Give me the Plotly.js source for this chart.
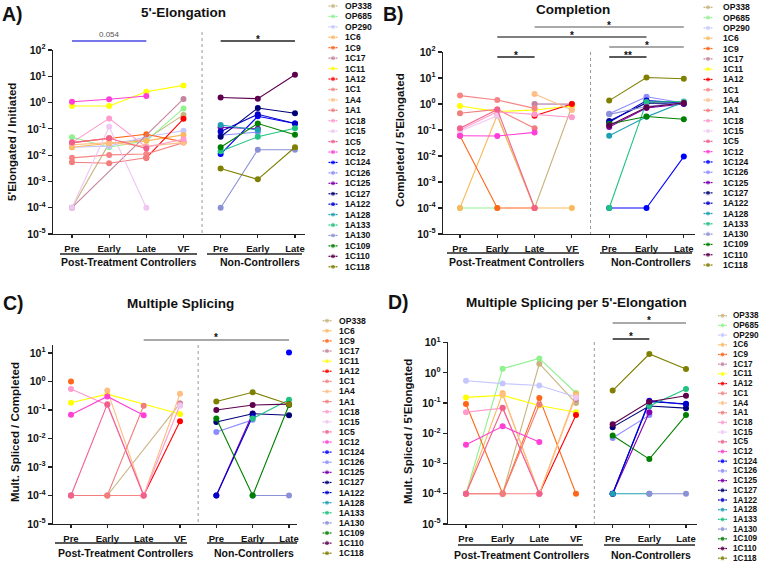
<!DOCTYPE html>
<html><head><meta charset="utf-8">
<script src="https://cdn.plot.ly/plotly-3.0.1.min.js"></script>
<style>html,body{margin:0;padding:0;background:#fff;} #chart{width:760px;height:563px;}</style>
</head><body><div id="chart"></div>
<script>
// ---------- DATA ----------
const patients = ['OP338','OP685','OP290','1C6','1C9','1C17','1C11','1A12','1C1','1A4','1A1','1C18','1C15','1C5','1C12',
                  '1C124','1C126','1C125','1C127','1A122','1A128','1A133','1A130','1C109','1C110','1C118'];
const colors = ['#c9b47f','#8ff28f','#c6c6ff','#fbb95e','#ff6619','#c4849f','#ffff00','#ff0000','#f78585','#ffbe84','#f27d7d','#ff9bcd','#f0c6f2','#f2618c','#ff3fd6',
                '#0000ff','#8c8cff','#8000b0','#00007a','#0000c8','#1ea0b4','#1ec381','#8a91d6','#008000','#5e004e','#7f7f00'];
const ptcPatients = patients.slice(0, 15);
const ncPatients = patients.slice(15);
const timeLabels = ['Pre','Early','Late','VF','Pre','Early','Late'];
const groupLabels = ['Post-Treatment Controllers','Non-Controllers'];

// A) 5'-Elongation  (rows follow ptcPatients: Pre, Early, Late, VF)
const elongPTC = [
  [1e-4, 0.028, 0.04, 0.34],
  [0.048, 0.02, 0.035, 0.6],
  [0.02, 0.022, 0.05, 0.085],
  [0.02, 0.028, 0.035, 0.059],
  [0.03, 0.044, 0.062, 0.032],
  [1e-4, null, null, 1.37],
  [0.74, 0.74, 2.6, 4.5],
  [null, null, 0.0079, 0.24],
  [0.0079, 0.0102, 0.011, 0.03],
  [0.025, 0.03, 0.022, 0.03],
  [0.0054, 0.0049, 0.008, null],
  [0.03, 0.25, 0.02, 0.04],
  [1e-4, 0.12, 1e-4, null],
  [0.03, 0.044, 0.018, null],
  [1.08, 1.33, 1.78, null]
];
// (rows follow ncPatients: Pre, Early, Late)
const elongNC = [
  [0.011, 0.3, 0.16],
  [0.057, 0.075, null],
  [0.115, 0.1, null],
  [0.05, 0.62, 0.39],
  [0.08, 0.36, 0.16],
  [0.14, 0.09, null],
  [0.014, 0.05, 0.105],
  [1e-4, 0.016, 0.016],
  [0.02, 0.16, 0.06],
  [1.55, 1.4, 11.5],
  [0.0031, 0.0012, 0.02]
];
// B) Completion
const complPTC = [
  [null, 0.35, 1e-4, 0.8],
  [1e-4, 1e-4, null, null],
  [null, null, 1.0, 0.95],
  [1e-4, 0.38, 1e-4, 1e-4],
  [0.06, 1e-4, 1e-4, null],
  [null, null, 1.0, 1.0],
  [0.84, 0.51, 0.59, 0.84],
  [null, null, 0.35, 1.0],
  [2.1, 1.43, 0.68, null],
  [null, null, 2.4, 0.59],
  [0.44, 0.62, 0.116, null],
  [0.1, 0.5, 0.4, 0.31],
  [0.09, 0.35, null, null],
  [0.116, 0.62, 1e-4, null],
  [0.06, 0.059, 0.081, null]
];
const complNC = [
  [1e-4, 1e-4, 0.0095],
  [0.42, 1.9, 1.1],
  [0.13, 0.7, 1.0],
  [0.22, 1.1, 1.05],
  [0.2, 1.35, 1.1],
  [0.06, 0.32, 1.2],
  [1e-4, 1.2, 1.25],
  [0.4, 0.8, 1.15],
  [0.17, 0.33, 0.26],
  [0.15, 0.75, 1.1],
  [1.35, 10.4, 9.3]
];
// C) Multiple Splicing (OP685, OP290 not measured)
const multPTC = [
  [null, 1e-4, null, 0.17],
  null,
  null,
  [null, null, null, 0.15],
  [1.0, null, null, null],
  [null, null, null, 0.17],
  [0.18, 0.36, null, 0.072],
  [null, null, 1e-4, 0.04],
  [1e-4, 1e-4, 1e-4, null],
  [null, 0.48, 1e-4, 0.37],
  [1e-4, 1e-4, 0.14, null],
  [0.55, 0.15, 1e-4, 0.15],
  [null, null, null, 0.14],
  [1e-4, 0.16, 1e-4, null],
  [0.068, 0.3, 0.065, null]
];
const multNC = [
  [null, null, 10.4],
  [0.017, 0.045, null],
  [1e-4, 0.075, null],
  [0.038, 0.074, 0.065],
  [1e-4, 0.06, null],
  [null, 1e-4, null],
  [null, 0.05, 0.23],
  [null, 1e-4, 1e-4],
  [0.05, 1e-4, 0.15],
  [0.1, 0.15, 0.16],
  [0.2, 0.42, 0.16]
];
// D) Multiple Splicing per 5'-Elongation
const perElongPTC = [
  [null, 1e-4, 2.0, 0.1],
  [1e-4, 1.37, 3.0, 0.215],
  [0.55, 0.44, 0.38, 0.158],
  [1e-4, 0.21, 1e-4, 0.2],
  [0.093, 1e-4, 0.148, 1e-4],
  [null, null, null, 0.13],
  [0.154, 0.18, 0.083, 0.05],
  [null, null, 1e-4, 0.04],
  [1e-4, 1e-4, 1e-4, null],
  [null, 0.19, 1e-4, 0.17],
  [1e-4, 1e-4, 0.09, null],
  [0.05, 0.068, 1e-4, null],
  [null, null, null, 0.15],
  [1e-4, 0.07, 1e-4, null],
  [0.0042, 0.017, 0.0052, null]
];
const perElongNC = [
  [1e-4, 0.12, 0.09],
  [0.007, 0.04, null],
  [1e-4, 0.05, null],
  [0.016, 0.08, 0.068],
  [1e-4, 0.11, 0.095],
  [1e-4, 1e-4, null],
  [null, 0.08, 0.29],
  [null, 1e-4, 1e-4],
  [0.0085, 0.0014, 0.04],
  [0.02, 0.11, 0.175],
  [0.26, 4.2, 1.34]
];
// significance brackets: [from, to, label] in time positions
const sigA = [[0, 2, '0.054'], [4, 6, '*']];
const sigB = [[2, 6, '*'], [1, 5, '*'], [4, 6, '*'], [4, 5, '**'], [1, 2, '*']];
const sigC = [[2, 6, '*']];
const sigD = [[4, 6, '*'], [4, 5, '*']];

// ---------- LAYOUT CONSTANTS ----------
const W = 760, H = 563;
const FONT = 'Liberation Sans, Arial, Helvetica, sans-serif';
const ptcX = [0, 1, 2, 3], ncX = [4, 5, 6];

const panels = [
  {letter:'A)', title:"5'-Elongation", ytitle:"5'Elongated / Initiated", ptc:elongPTC, nc:elongNC, sig:sigA,
   xs:'x', ys:'y', xk:'xaxis', yk:'yaxis', xdom:[53,305], xr:[-0.511,6.27], ydom:[50,234], yr:[-5,2], maxExp:2,
   letterPos:[0,14], titlePos:[183,12], ytitlePos:[12,142],
   grp:{ y:262, line:254, ptc:[60,197,129], nc:[207,302,260] }, div:[32,234],
   sigY:[41,41], sigCol:['#4a4ae6','#222'], sigTxtY:[34,36],
   leg:{ kx:333, tx:343, y0:6, dy:10.43, fs:8.6, list:patients } },
  {letter:'B)', title:'Completion', ytitle:"Completed / 5'Elongated", ptc:complPTC, nc:complNC, sig:sigB,
   xs:'x2', ys:'y2', xk:'xaxis2', yk:'yaxis2', xdom:[443,695], xr:[-0.455,6.3], ydom:[52,234], yr:[-5,2], maxExp:2,
   letterPos:[381,14], titlePos:[573,9], ytitlePos:[400,140],
   grp:{ y:262, line:253, ptc:[447,579,517], nc:[600,692,651] }, div:[52,234],
   sigY:[27,37,47,57,57], sigCol:['#8c8c8c','#555','#8c8c8c','#222','#222'], sigTxtY:[22,32,42,52,52],
   leg:{ kx:708, tx:720.5, y0:7.3, dy:10.31, fs:8.6, list:patients } },
  {letter:'C)', title:'Multiple Splicing', ytitle:'Mult. Spliced / Completed', ptc:multPTC, nc:multNC, sig:sigC,
   xs:'x3', ys:'y3', xk:'xaxis3', yk:'yaxis3', xdom:[53,297], xr:[-0.495,6.22], ydom:[345,524], yr:[-5,1.28], maxExp:1,
   letterPos:[1,303], titlePos:[180,303], ytitlePos:[15,432],
   grp:{ y:553, line:543, ptc:[55,187,126], nc:[207,297,254] }, div:[345,524],
   sigY:[340], sigCol:['#8c8c8c'], sigTxtY:[334],
   leg:{ kx:327, tx:336.5, y0:320.7, dy:10.11, fs:8.6, list:patients.filter(p => p !== 'OP685' && p !== 'OP290') } },
  {letter:'D)', title:"Multiple Splicing per 5'-Elongation", ytitle:"Mult. Spliced / 5'Elongated", ptc:perElongPTC, nc:perElongNC, sig:sigD,
   xs:'x4', ys:'y4', xk:'xaxis4', yk:'yaxis4', xdom:[448,697], xr:[-0.49,6.3], ydom:[342,524], yr:[-5,1.02], maxExp:1,
   letterPos:[386,302], titlePos:[576,302], ytitlePos:[408,432],
   grp:{ y:555, line:545, ptc:[458,583,522], nc:[604,695,651] }, div:[342,524],
   sigY:[323,339], sigCol:['#8c8c8c','#222'], sigTxtY:[317,333],
   leg:{ kx:722.5, tx:731, y0:315.7, dy:9.7, fs:8.2, list:patients } }
];

const traces = [];
const shapes = [];
const annotations = [];
const layout = {
  width: W, height: H, margin:{l:0,r:0,t:0,b:0},
  paper_bgcolor:'#ffffff', plot_bgcolor:'rgba(0,0,0,0)', showlegend:false,
  font:{family:FONT, color:'#111', size:10},
  xaxis5:{domain:[0,1], range:[0,W], visible:false, fixedrange:true, anchor:'y5'},
  yaxis5:{domain:[0,1], range:[H,0], visible:false, fixedrange:true, anchor:'x5'}
};
const P = (txt, x, y, size, opts) => Object.assign({
  text:txt, x:x, y:y, xref:'x5', yref:'y5', showarrow:false,
  font:{family:FONT, size:size, color:'#111', weight:'bold'}, xanchor:'center', yanchor:'middle'
}, opts || {});

panels.forEach(p => {
  const tickvals = [], ticktext = [];
  for (let e = -5; e <= p.maxExp; e++) { tickvals.push(Math.pow(10, e)); ticktext.push('10<sup>' + e + '</sup>'); }
  layout[p.xk] = {
    domain:[p.xdom[0]/W, p.xdom[1]/W], range:p.xr, anchor:p.ys, fixedrange:true,
    tickmode:'array', tickvals:[0,1,2,3,4,5,6], ticktext:timeLabels,
    showline:true, linecolor:'#222', linewidth:1.4, ticks:'outside', ticklen:3, tickwidth:1.2, tickcolor:'#222',
    ticklabelstandoff:2,
    showgrid:false, zeroline:false, tickfont:{family:FONT, size:9.5, color:'#111', weight:'bold'}
  };
  layout[p.yk] = {
    domain:[(H - p.ydom[1])/H, (H - p.ydom[0])/H], range:p.yr, type:'log', anchor:p.xs, fixedrange:true,
    tickmode:'array', tickvals:tickvals, ticktext:ticktext,
    showline:true, linecolor:'#222', linewidth:1.4, ticks:'outside', ticklen:4, tickwidth:1.2, tickcolor:'#222',
    showgrid:false, zeroline:false, tickfont:{family:FONT, size:10.5, color:'#111', weight:'bold'}
  };
  const addSeries = (rows, names, xs) => rows.forEach((row, i) => {
    if (!row) return;
    const idx = patients.indexOf(names[i]);
    traces.push({
      type:'scatter', mode:'lines+markers', x:xs, y:row, xaxis:p.xs, yaxis:p.ys,
      connectgaps:true, cliponaxis:false, hoverinfo:'skip', name:names[i],
      line:{color:colors[idx], width:1.1},
      marker:{color:colors[idx], size:6}
    });
  });
  addSeries(p.ptc, ptcPatients, ptcX);
  addSeries(p.nc, ncPatients, ncX);
  shapes.push({type:'line', xref:p.xs, yref:'y5', x0:3.5, x1:3.5, y0:p.div[0], y1:p.div[1],
               line:{color:'#9a9a9a', width:1, dash:'dot'}});
  shapes.push({type:'line', xref:'x5', yref:'y5', x0:p.grp.ptc[0], x1:p.grp.ptc[1], y0:p.grp.line, y1:p.grp.line, line:{color:'#222', width:1.3}});
  shapes.push({type:'line', xref:'x5', yref:'y5', x0:p.grp.nc[0], x1:p.grp.nc[1], y0:p.grp.line, y1:p.grp.line, line:{color:'#222', width:1.3}});
  annotations.push(P(groupLabels[0], p.grp.ptc[2], p.grp.y, 10.5));
  annotations.push(P(groupLabels[1], p.grp.nc[2], p.grp.y, 10.5));
  annotations.push(P(p.letter, p.letterPos[0], p.letterPos[1], 19.5, {xanchor:'left'}));
  annotations.push(P(p.title, p.titlePos[0], p.titlePos[1], 13.5));
  annotations.push(P(p.ytitle, p.ytitlePos[0], p.ytitlePos[1], 11.5, {textangle:-90}));
  p.sig.forEach((s, k) => {
    shapes.push({type:'line', xref:p.xs, yref:'y5', x0:s[0], x1:s[1], y0:p.sigY[k], y1:p.sigY[k],
                 line:{color:p.sigCol[k], width:1.3}});
    const isNum = s[2].indexOf('*') < 0;
    annotations.push({text:s[2], x:(s[0]+s[1])/2, y:p.sigTxtY[k] + (isNum ? 0 : 3), xref:p.xs, yref:'y5', showarrow:false,
      xanchor:'center', yanchor:'middle',
      font:{family:FONT, size:isNum ? 8 : 10, color:isNum ? '#555' : '#111', weight:isNum ? 'normal' : 'bold'}});
  });
  p.leg.list.forEach((name, k) => {
    const idx = patients.indexOf(name);
    const yy = p.leg.y0 + k * p.leg.dy;
    traces.push({
      type:'scatter', mode:'lines+markers', x:[p.leg.kx - 4.5, p.leg.kx, p.leg.kx + 4.5], y:[yy, yy, yy],
      xaxis:'x5', yaxis:'y5', hoverinfo:'skip', cliponaxis:false,
      line:{color:colors[idx], width:1.2}, marker:{color:colors[idx], size:[0, 5, 0]}
    });
    annotations.push(P(name, p.leg.tx, yy, p.leg.fs, {xanchor:'left'}));
  });
});
layout.shapes = shapes;
layout.annotations = annotations;
Plotly.newPlot('chart', traces, layout, {staticPlot:true, displayModeBar:false});
</script>
</body></html>
